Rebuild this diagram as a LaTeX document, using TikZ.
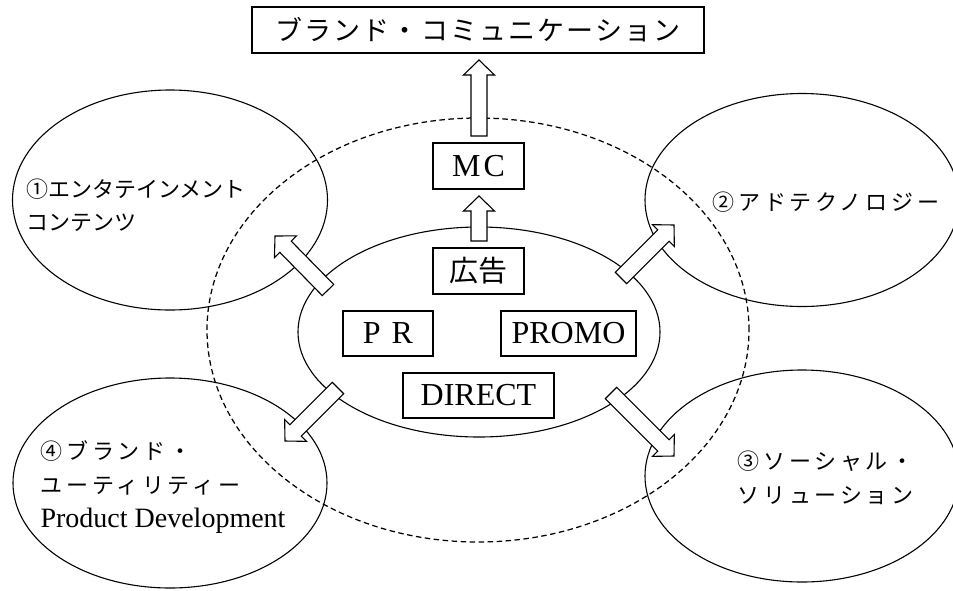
\documentclass[tikz,border=0pt]{standalone}
\usepackage{fontspec}
\setmainfont{Liberation Serif}
\newfontfamily\jp{Noto Sans CJK JP}
\newfontfamily\jpsp{Noto Sans CJK JP}[LetterSpace=17]
\newfontfamily\jptitle{Noto Sans CJK JP}[LetterSpace=8]
\usetikzlibrary{shapes.geometric,calc}

% hollow block arrow from #1 to #2 (shaft half-width 8pt, head half-width 15.5pt, head length 15pt)
\newcommand\hollowarrow[2]{%
  \coordinate (hn) at ($(#2)!15pt!(#1)$);
  \draw[hollow] ($(#1)!8pt!90:(#2)$) -- ($(hn)!8pt!90:(#2)$) -- ($(hn)!15.5pt!90:(#2)$)
    -- (#2) -- ($(hn)!15.5pt!-90:(#2)$) -- ($(hn)!8pt!-90:(#2)$) -- ($(#1)!8pt!-90:(#2)$) -- cycle;}

\begin{document}
\begin{tikzpicture}[x=1pt,y=-1pt,line width=1.1pt,
  box/.style={draw,rectangle,inner sep=0pt,minimum height=46pt},
  oval/.style={draw,ellipse,inner sep=0pt},
  scopeoval/.style={draw,ellipse,dash pattern=on 5.5pt off 3.5pt,line width=1.25pt,inner sep=0pt},
  hollow/.style={draw,fill=white,line width=1.1pt,line join=miter},
  latin/.style={font=\rmfamily\fontsize{32}{36}\selectfont},
  jplabel/.style={font=\jpsp\fontsize{22}{34}\selectfont,align=left,anchor=west,inner sep=0pt},
]
\useasboundingbox (0,0) rectangle (953,590);

% dashed scope of marketing communication
\node[scopeoval,minimum width=542pt,minimum height=424pt] (scope) at (478,330) {};

% outer fields
\node[oval,minimum width=315pt,minimum height=220pt] (e1) at (170,200) {};
\node[oval,minimum width=314pt,minimum height=213pt] (e2) at (802,200) {};
\node[oval,minimum width=314pt,minimum height=212pt] (e3) at (802,476) {};
\node[oval,minimum width=314pt,minimum height=210pt] (e4) at (170,483) {};

% core communication ellipse
\node[oval,minimum width=362pt,minimum height=210pt] (core) at (479,332) {};

% boxes
\node[box,minimum width=452pt,font=\jptitle\fontsize{27}{30}\selectfont] (bc) at (478,30) {ブランド・コミュニケーション};
\node[box,minimum width=91pt,latin] (mc) at (478.5,166) {M\kern3pt C};
\node[box,minimum width=91pt,font=\jp\fontsize{29}{32}\selectfont] (ad) at (478.5,271) {広告};
\node[box,minimum width=90pt,minimum height=45pt,latin] (pr) at (388,333.5) {P\kern11pt R};
\node[box,minimum width=135pt,minimum height=45pt,latin] (promo) at (568.5,333.5) {PROMO};
\node[box,minimum width=151pt,minimum height=45pt,latin] (direct) at (478.5,395.5) {DIRECT};

% labels of the outer fields
\node[jplabel,font=\jp\fontsize{22}{33}\selectfont] (t1) at (26,205) {①エンタテインメント\\コンテンツ};
\node[jplabel] (t2) at (712,202) {②アドテクノロジー};
\node[jplabel] (t3) at (737,478) {③ソーシャル・\\ソリューション};
\node[jplabel] (t4) at (40,487) {④ブランド・\\ユーティリティー\\{\rmfamily\fontsize{28}{34}\selectfont Product Development}};

% arrow end points
\coordinate (u1s) at (479,136); \coordinate (u1e) at (479,60);
\coordinate (u2s) at (479,241); \coordinate (u2e) at (479,196);
\coordinate (a1s) at (328,290); \coordinate (a1e) at (275,236);
\coordinate (a2s) at (621,278); \coordinate (a2e) at (674,225);
\coordinate (a3s) at (611,393); \coordinate (a3e) at (674,456);
\coordinate (a4s) at (338,388); \coordinate (a4e) at (285,441);

\hollowarrow{u1s}{u1e}
\hollowarrow{u2s}{u2e}
\hollowarrow{a1s}{a1e}
\hollowarrow{a2s}{a2e}
\hollowarrow{a3s}{a3e}
\hollowarrow{a4s}{a4e}
\end{tikzpicture}
\end{document}
